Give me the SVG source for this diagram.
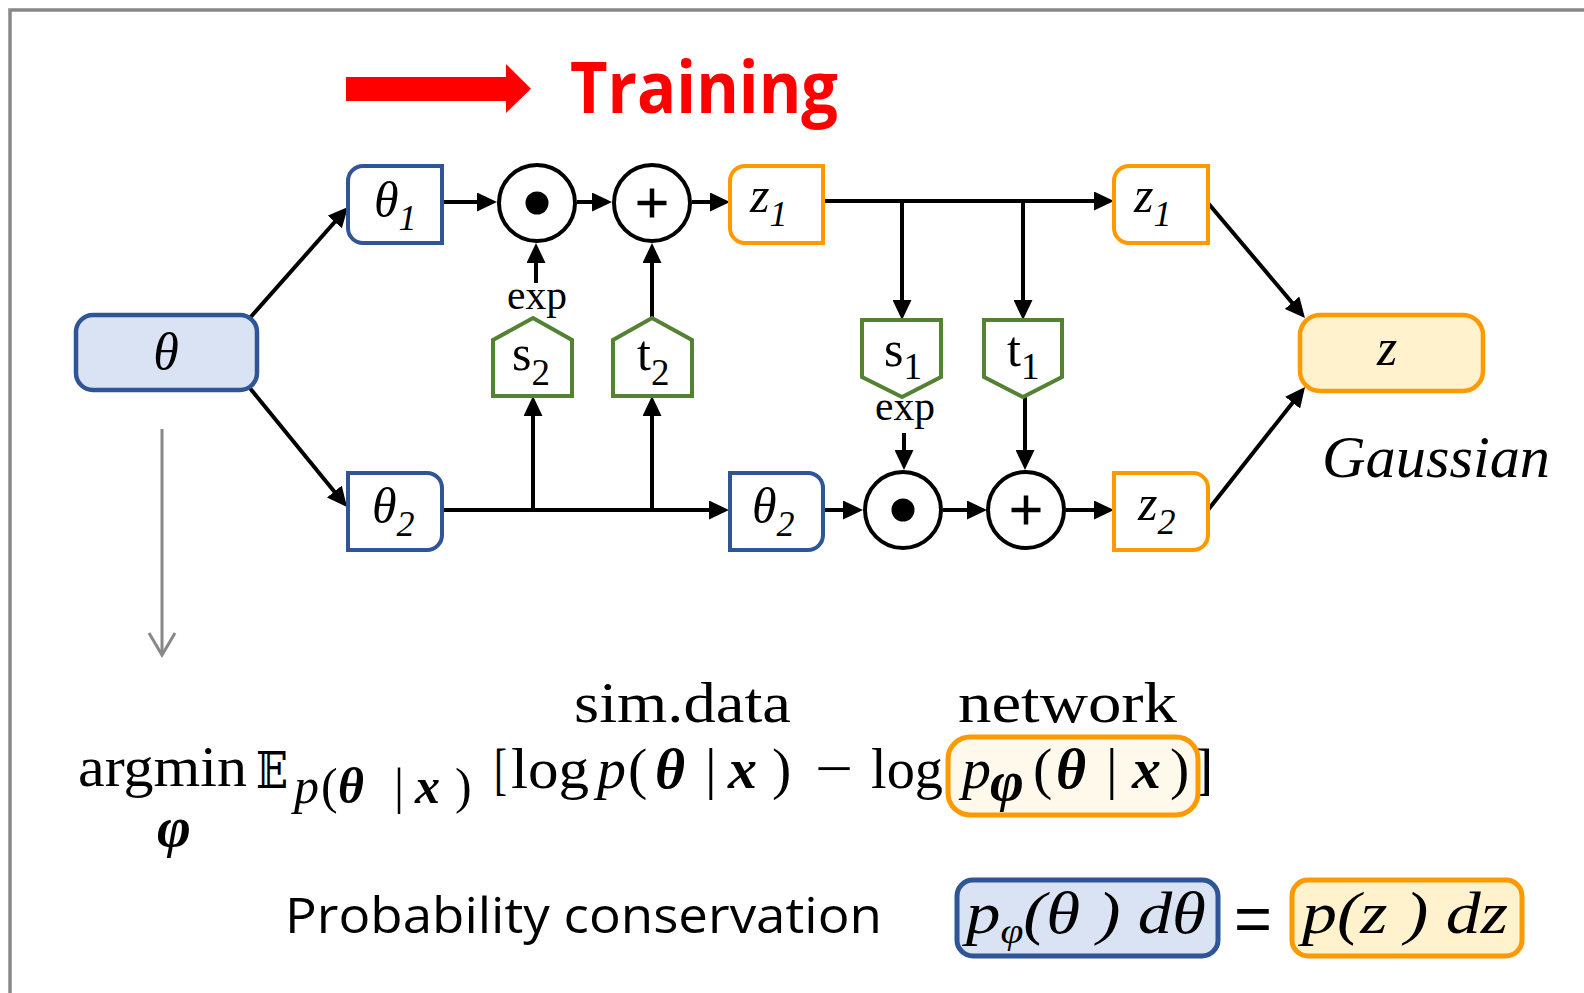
<svg xmlns="http://www.w3.org/2000/svg" width="1584" height="993" viewBox="0 0 1584 993">
<style>
.bx{fill:#fff;stroke:#2F5597;stroke-width:4}
.ox{fill:#fff;stroke:#FF9900;stroke-width:4}
.gr{fill:#fff;stroke:#548235;stroke-width:4}
.op{fill:#fff;stroke:#000;stroke-width:4}
.ln{stroke:#000;stroke-width:4;fill:none}
.ml{font-family:"Liberation Serif","DejaVu Serif",serif;font-style:italic;fill:#000}
.up{font-family:"Liberation Serif","DejaVu Serif",serif;fill:#000}
.fm{font-family:"Liberation Serif","DejaVu Serif",serif;fill:#000;font-size:58px}
.sb{font-family:"Liberation Serif","DejaVu Serif",serif;fill:#000;font-size:50px}
.bi{font-weight:bold;font-style:italic}
.it{font-style:italic}
</style>
<defs>
<marker id="ah" markerWidth="20" markerHeight="19" refX="14" refY="9.5" orient="auto" markerUnits="userSpaceOnUse"><path d="M0,0 L20,9.5 L0,19 Z" fill="#000"/></marker>
</defs>
<rect width="1584" height="993" fill="#fff"/>
<path d="M10,993 V10 H1584" fill="none" stroke="#888" stroke-width="3.5"/>

<g id="training">
<path d="M346,77 H506 V64 L531,88.7 L506,113 V101 H346 Z" fill="#FF0000"/>
<text x="570" y="113" font-family="'Open Sans','Liberation Sans',sans-serif" font-weight="bold" font-size="72" fill="#FF0000" textLength="268" lengthAdjust="spacingAndGlyphs">Training</text>
</g>

<g id="connectors">
<line class="ln" x1="249" y1="319" x2="344" y2="211.5" marker-end="url(#ah)"/>
<line class="ln" x1="249" y1="387" x2="343.2" y2="502.4" marker-end="url(#ah)"/>
<line class="ln" x1="442" y1="202" x2="491" y2="202" marker-end="url(#ah)"/>
<line class="ln" x1="577" y1="202" x2="606" y2="202" marker-end="url(#ah)"/>
<line class="ln" x1="692" y1="202" x2="724" y2="202" marker-end="url(#ah)"/>
<line class="ln" x1="536" y1="283" x2="536" y2="249" marker-end="url(#ah)"/>
<line class="ln" x1="652" y1="318" x2="652" y2="249" marker-end="url(#ah)"/>
<line class="ln" x1="442" y1="510" x2="723" y2="510" marker-end="url(#ah)"/>
<line class="ln" x1="533" y1="510" x2="533" y2="402" marker-end="url(#ah)"/>
<line class="ln" x1="652" y1="510" x2="652" y2="402" marker-end="url(#ah)"/>
<line class="ln" x1="823" y1="201" x2="1108" y2="201" marker-end="url(#ah)"/>
<line class="ln" x1="902" y1="201" x2="902" y2="314" marker-end="url(#ah)"/>
<line class="ln" x1="1023" y1="201" x2="1023" y2="314" marker-end="url(#ah)"/>
<line class="ln" x1="904" y1="433" x2="904" y2="464" marker-end="url(#ah)"/>
<line class="ln" x1="1025" y1="397" x2="1025" y2="464" marker-end="url(#ah)"/>
<line class="ln" x1="823" y1="510" x2="857" y2="510" marker-end="url(#ah)"/>
<line class="ln" x1="943" y1="510" x2="981" y2="510" marker-end="url(#ah)"/>
<line class="ln" x1="1066" y1="510" x2="1108" y2="510" marker-end="url(#ah)"/>
<line class="ln" x1="1208" y1="203" x2="1301.1" y2="313.4" marker-end="url(#ah)"/>
<line class="ln" x1="1208" y1="510" x2="1301.3" y2="391.7" marker-end="url(#ah)"/>
<line x1="162" y1="429" x2="162" y2="655" stroke="#888" stroke-width="3"/>
<polyline points="149,633 162,655 175,633" fill="none" stroke="#888" stroke-width="3"/>
</g>

<g id="theta">
<rect x="76" y="315" width="181" height="75" rx="17" fill="#DAE3F3" stroke="#2F5597" stroke-width="4.5"/>
<text class="ml" x="166" y="369" font-size="52" text-anchor="middle">θ</text>
</g>

<g id="theta1">
<path class="bx" d="M363,166 H442 V243 H363 A15,15 0 0 1 348,228 V181 A15,15 0 0 1 363,166 Z"/>
<text class="ml" x="374" y="217" font-size="50">θ<tspan font-size="36" dy="13">1</tspan></text>
</g>

<g id="theta2a">
<path class="bx" d="M348,473 H427 A15,15 0 0 1 442,488 V535 A15,15 0 0 1 427,550 H348 Z"/>
<text class="ml" x="372" y="523" font-size="50">θ<tspan font-size="36" dy="13">2</tspan></text>
</g>

<g id="mul1">
<circle class="op" cx="537" cy="203" r="38"/>
<circle cx="537" cy="203" r="11.5" fill="#000"/>
</g>
<g id="add1">
<circle class="op" cx="652" cy="203" r="38"/>
<path d="M637.5,203 H666.5 M652,188.5 V217.5" stroke="#000" stroke-width="4.5"/>
</g>
<text class="up" x="537" y="309" font-size="42" text-anchor="middle" textLength="60" lengthAdjust="spacingAndGlyphs">exp</text>

<g id="s2">
<path class="gr" d="M493,396 V340 L533,318 L572,340 V396 Z"/>
<text class="up" x="512" y="370" font-size="50">s<tspan font-size="37" dy="15">2</tspan></text>
</g>
<g id="t2">
<path class="gr" d="M613,396 V340 L652,318 L692,340 V396 Z"/>
<text class="up" x="637" y="370" font-size="50">t<tspan font-size="37" dy="15">2</tspan></text>
</g>

<g id="z1a">
<path class="ox" d="M745,166 H823 V243 H745 A15,15 0 0 1 730,228 V181 A15,15 0 0 1 745,166 Z"/>
<text class="ml" x="750" y="212" font-size="50">z<tspan font-size="36" dy="14">1</tspan></text>
</g>

<g id="theta2b">
<path class="bx" d="M730,473 H808 A15,15 0 0 1 823,488 V535 A15,15 0 0 1 808,550 H730 Z"/>
<text class="ml" x="752" y="523" font-size="50">θ<tspan font-size="36" dy="13">2</tspan></text>
</g>

<g id="s1">
<path class="gr" d="M862,320 H941 V377 L902,397 L862,377 Z"/>
<text class="up" x="884" y="366" font-size="50">s<tspan font-size="37" dy="13">1</tspan></text>
</g>
<g id="t1">
<path class="gr" d="M984,320 H1062 V377 L1023,397 L984,377 Z"/>
<text class="up" x="1007" y="366" font-size="50">t<tspan font-size="37" dy="13">1</tspan></text>
</g>
<text class="up" x="905" y="420" font-size="42" text-anchor="middle" textLength="60" lengthAdjust="spacingAndGlyphs">exp</text>

<g id="mul2">
<circle class="op" cx="903" cy="510" r="38"/>
<circle cx="903" cy="510" r="11.5" fill="#000"/>
</g>
<g id="add2">
<circle class="op" cx="1026" cy="510" r="38"/>
<path d="M1011.5,510 H1040.5 M1026,495.5 V524.5" stroke="#000" stroke-width="4.5"/>
</g>

<g id="z1b">
<path class="ox" d="M1129,166 H1208 V243 H1129 A15,15 0 0 1 1114,228 V181 A15,15 0 0 1 1129,166 Z"/>
<text class="ml" x="1134" y="212" font-size="50">z<tspan font-size="36" dy="14">1</tspan></text>
</g>

<g id="z2">
<path class="ox" d="M1114,473 H1193 A15,15 0 0 1 1208,488 V535 A15,15 0 0 1 1193,550 H1114 Z"/>
<text class="ml" x="1138" y="520" font-size="50">z<tspan font-size="36" dy="14">2</tspan></text>
</g>

<g id="z">
<rect x="1300" y="315" width="183" height="76" rx="20" fill="#FFF2CC" stroke="#FF9900" stroke-width="4.5"/>
<text class="ml" x="1387" y="365" font-size="52" text-anchor="middle">z</text>
</g>
<text class="ml" x="1322" y="477" font-size="60" textLength="228" lengthAdjust="spacingAndGlyphs">Gaussian</text>

<g id="formula">
<text class="fm" x="574" y="722" font-size="56" textLength="217" lengthAdjust="spacingAndGlyphs">sim.data</text>
<text class="fm" x="958" y="722" font-size="56" textLength="219" lengthAdjust="spacingAndGlyphs">network</text>
<text class="fm" x="78" y="786" textLength="169" lengthAdjust="spacingAndGlyphs">argmin</text>
<text class="fm bi" x="157" y="846" font-size="40">φ</text>
<text x="256" y="788" font-family="'DejaVu Serif','DejaVu Sans',serif" font-size="50" textLength="32" lengthAdjust="spacingAndGlyphs">𝔼</text>
<text class="sb it" x="294" y="803">p</text>
<text class="sb" x="321" y="803">(</text>
<text class="sb bi" x="338" y="803">θ</text>
<text class="sb" x="394" y="803">|</text>
<text class="sb bi" x="415" y="803">x</text>
<text class="sb" x="455" y="803">)</text>
<text class="fm" x="494" y="788" textLength="13" lengthAdjust="spacingAndGlyphs">[</text>
<text class="fm" x="511" y="788" textLength="78" lengthAdjust="spacingAndGlyphs">log</text>
<text class="fm it" x="597" y="788">p</text>
<text class="fm" x="628" y="788">(</text>
<text class="fm bi" x="655" y="788">θ</text>
<text class="fm" x="705" y="788">|</text>
<text class="fm bi" x="728" y="788">x</text>
<text class="fm" x="772" y="788">)</text>
<text class="fm" x="815" y="788" textLength="38" lengthAdjust="spacingAndGlyphs">−</text>
<text class="fm" x="871" y="788" textLength="72" lengthAdjust="spacingAndGlyphs">log</text>
<text class="fm" x="1194" y="788">]</text>
<rect x="948" y="737" width="250" height="78" rx="22" fill="#FFF9EA" fill-opacity="0.95" stroke="#FF9900" stroke-width="5"/>
<g fill="#4a463c">
<text class="fm it" x="962" y="788" fill="#4a463c">p</text>
<text class="fm bi" x="990" y="800" font-size="40" fill="#4a463c">φ</text>
<text class="fm" x="1033" y="788" fill="#4a463c">(</text>
<text class="fm bi" x="1056" y="788" fill="#4a463c">θ</text>
<text class="fm" x="1106" y="788" fill="#4a463c">|</text>
<text class="fm bi" x="1132" y="788" fill="#4a463c">x</text>
<text class="fm" x="1170" y="788" fill="#4a463c">)</text>
</g>
</g>

<g id="conservation">
<text x="285" y="933" font-family="'Open Sans','Liberation Sans',sans-serif" font-size="50" textLength="597" lengthAdjust="spacingAndGlyphs">Probability conservation</text>
<rect x="957" y="880" width="261" height="76" rx="16" fill="#DAE3F3" stroke="#2F5597" stroke-width="5"/>
<text class="ml" x="966" y="933" font-size="60" textLength="240" lengthAdjust="spacingAndGlyphs">p<tspan font-size="36" dy="10">φ</tspan><tspan dy="-10">(θ ) dθ</tspan></text>
<text x="1234" y="941" font-family="'Liberation Sans',sans-serif" font-size="64" textLength="38" lengthAdjust="spacingAndGlyphs">=</text>
<rect x="1292" y="880" width="230" height="76" rx="16" fill="#FFF2CC" stroke="#FF9900" stroke-width="5"/>
<text class="ml" x="1302" y="933" font-size="60" textLength="206" lengthAdjust="spacingAndGlyphs">p(z ) dz</text>
</g>
</svg>
